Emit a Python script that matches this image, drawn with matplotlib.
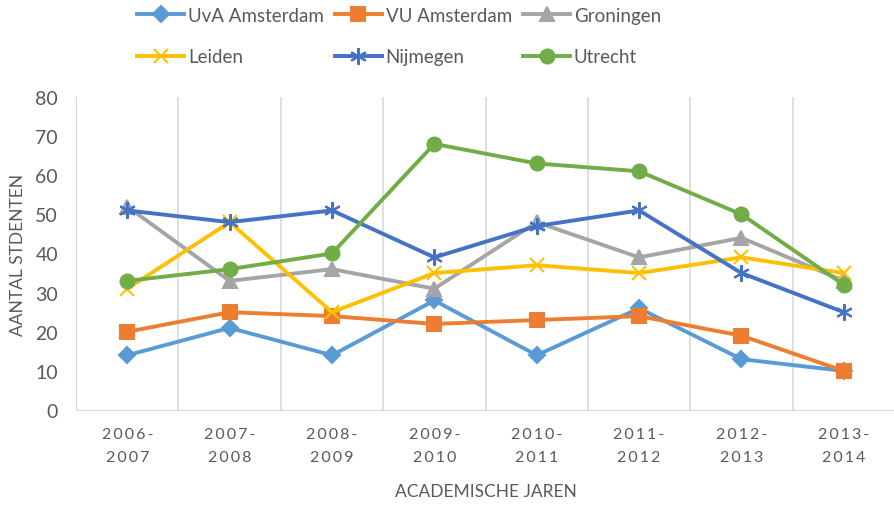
import matplotlib.pyplot as plt
from matplotlib.ticker import MultipleLocator

plt.rcParams['font.family'] = ['Lato', 'DejaVu Sans']

# academic years (x categories)
years = ['2006-\n2007', '2007-\n2008', '2008-\n2009', '2009-\n2010',
         '2010-\n2011', '2011-\n2012', '2012-\n2013', '2013-\n2014']

# student counts per university
uva = [14, 21, 14, 28, 14, 26, 13, 10]
vu = [20, 25, 24, 22, 23, 24, 19, 10]
groningen = [52, 33, 36, 31, 48, 39, 44, 33]
leiden = [31, 48, 25, 35, 37, 35, 39, 35]
nijmegen = [51, 48, 51, 39, 47, 51, 35, 25]
utrecht = [33, 36, 40, 68, 63, 61, 50, 32]

series = [
    ('UvA Amsterdam', uva, '#5B9BD5', 'D', 8),
    ('VU Amsterdam', vu, '#ED7D31', 's', 10),
    ('Groningen', groningen, '#A5A5A5', '^', 10),
    ('Leiden', leiden, '#FFC000', 'x', 10),
    ('Nijmegen', nijmegen, '#4472C4', (6, 2, 0), 12),
    ('Utrecht', utrecht, '#70AD47', 'o', 10),
]


def spaced(label):
    # the tick labels are drawn with wide letter spacing
    return '\n'.join('\u2009'.join(part) for part in label.split('\n'))


fig = plt.figure(figsize=(8.95, 5.10), dpi=100)
ax = fig.add_axes([0.085, 0.194, 0.915, 0.614])

x = list(range(len(years)))
handles = {}
for name, vals, color, marker, ms in series:
    line, = ax.plot(x, vals, color=color, linewidth=2.8, marker=marker,
                    markersize=ms, markeredgewidth=1.5, label=name)
    handles[name] = line

ax.set_xlim(-0.5, len(years) - 0.5)
ax.set_ylim(0, 80)
ax.yaxis.set_major_locator(MultipleLocator(10))
ax.set_xticks(x)
ax.set_xticklabels([spaced(y) for y in years], fontsize=11.5, color='#595959',
                   linespacing=1.8)
ax.tick_params(axis='y', labelsize=14, colors='#595959', length=0, pad=13)
ax.tick_params(axis='x', length=0, pad=12)

# vertical gridlines between categories
for b in range(1, len(years)):
    ax.axvline(b - 0.5, color='#D9D9D9', linewidth=1.2, zorder=0)

ax.spines['top'].set_visible(False)
ax.spines['right'].set_color('#D9D9D9')
ax.spines['left'].set_color('#D9D9D9')
ax.spines['bottom'].set_color('#D9D9D9')

ax.set_ylabel('AANTAL STDENTEN', fontsize=12.5, color='#595959', labelpad=7)
ax.set_xlabel('ACADEMISCHE JAREN', fontsize=12.5, color='#595959', labelpad=14)

order = ['UvA Amsterdam', 'Leiden', 'VU Amsterdam', 'Nijmegen', 'Groningen', 'Utrecht']
fig.legend([handles[n] for n in order], order, ncol=3, loc='upper center',
           bbox_to_anchor=(0.446, 1.018), frameon=False, fontsize=13.5,
           labelcolor='#595959', handlelength=2.5, handletextpad=0.2,
           columnspacing=0.6, labelspacing=1.3)

fig.savefig('out.png', dpi=100)
